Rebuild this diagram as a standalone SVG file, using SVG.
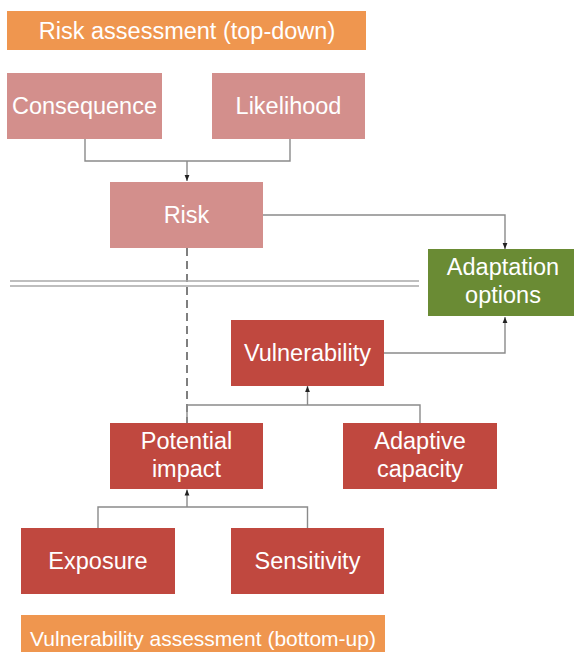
<svg xmlns="http://www.w3.org/2000/svg" width="574" height="652" viewBox="0 0 574 652">
<style>
text{font-family:"Liberation Sans",Arial,sans-serif;fill:#fff;text-anchor:middle;font-size:23.5px}
.banner{fill:#EF964F}
.pink{fill:#D38F8C}
.red{fill:#C0483F}
.green{fill:#6A8B34}
.conn{fill:none;stroke:#8a8a8a;stroke-width:1.4}
</style>
<defs>
<marker id="ah" viewBox="0 0 8 8" refX="8" refY="4" markerWidth="6" markerHeight="6" orient="auto" markerUnits="userSpaceOnUse">
<path d="M0,0.8 L8,4 L0,7.2 z" fill="#222"/>
</marker>
</defs>
<rect width="574" height="652" fill="#fff"/>
<g id="banner-top"><rect class="banner" x="7" y="11" width="359" height="39"/><text x="187" y="38.5">Risk assessment (top-down)</text></g>
<g id="banner-bottom"><rect class="banner" x="21" y="615" width="364" height="42"/><text x="203" y="646" style="font-size:21px">Vulnerability assessment (bottom-up)</text></g>
<g id="connectors">
<path class="conn" d="M85,139 V161 H290 V139"/>
<path class="conn" d="M187,161 V181" marker-end="url(#ah)"/>
<path class="conn" d="M263,215 H505 V249" marker-end="url(#ah)"/>
<path d="M187,248 V423" fill="none" stroke="#555" stroke-width="1.5" stroke-dasharray="8,5"/>
<path d="M10,281 H419 M10,286 H419" fill="none" stroke="#a9a9a9" stroke-width="1.5"/>
<path class="conn" d="M384,353 H505 V317" marker-end="url(#ah)"/>
<path class="conn" d="M187,423 V405 H420 V423"/>
<path class="conn" d="M307.5,405 V386" marker-end="url(#ah)"/>
<path class="conn" d="M98,528 V507 H307.5 V528"/>
<path class="conn" d="M187,507 V489.5" marker-end="url(#ah)"/>
</g>
<g id="consequence"><rect class="pink" x="7" y="73" width="155" height="66"/><text x="84.5" y="114">Consequence</text></g>
<g id="likelihood"><rect class="pink" x="212" y="73" width="153" height="66"/><text x="288.5" y="114">Likelihood</text></g>
<g id="risk"><rect class="pink" x="110" y="182" width="153" height="66"/><text x="186.5" y="222.5">Risk</text></g>
<g id="adaptation-options"><rect class="green" x="428" y="249" width="146" height="67"/><text x="503" y="275">Adaptation</text><text x="503" y="303">options</text></g>
<g id="vulnerability"><rect class="red" x="231" y="320" width="153" height="66"/><text x="307.5" y="361">Vulnerability</text></g>
<g id="potential-impact"><rect class="red" x="110" y="423" width="153" height="66"/><text x="186.5" y="449">Potential</text><text x="186.5" y="477">impact</text></g>
<g id="adaptive-capacity"><rect class="red" x="343" y="423" width="154" height="66"/><text x="420" y="449">Adaptive</text><text x="420" y="477">capacity</text></g>
<g id="exposure"><rect class="red" x="21" y="528" width="154" height="66"/><text x="98" y="569">Exposure</text></g>
<g id="sensitivity"><rect class="red" x="231" y="528" width="153" height="66"/><text x="307.5" y="569">Sensitivity</text></g>
</svg>
